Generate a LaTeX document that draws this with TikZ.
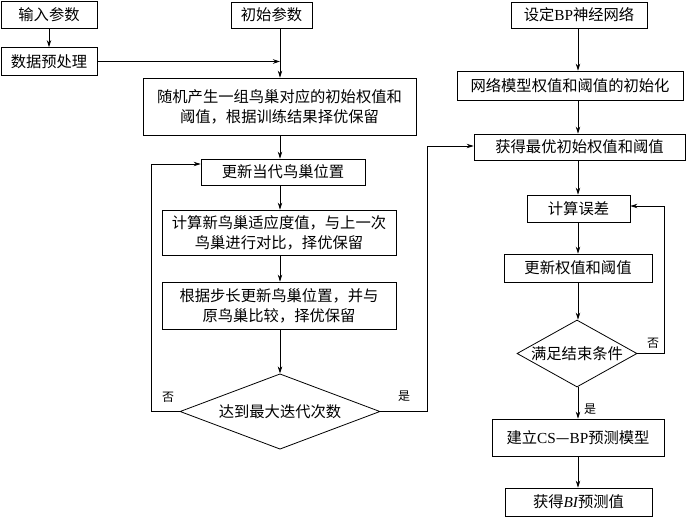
\documentclass[tikz,border=0pt]{standalone}
\usepackage{fontspec}
\setmainfont{Noto Sans CJK SC}
\newfontfamily\lat{Liberation Serif}
\usetikzlibrary{shapes.geometric,arrows.meta}
\begin{document}
\begin{tikzpicture}[x=1pt,y=-1pt,
  box/.style={draw,line width=0.8pt,inner sep=0pt,align=center,font=\fontsize{15.3}{20}\selectfont},
  dec/.style={draw,line width=0.8pt,diamond,aspect=2,inner sep=0pt,font=\fontsize{15.3}{20}\selectfont},
  arr/.style={line width=0.8pt,-{Stealth[length=7pt,width=4.5pt]}},
  ln/.style={line width=0.8pt},
  lbl/.style={font=\fontsize{12}{14}\selectfont,inner sep=0pt}]
\fill[white] (0,0) rectangle (700,525);
\useasboundingbox (0,0) rectangle (700,525);
% left column
\node[box,minimum width=96pt,minimum height=27pt] (in) at (49,14.5) {输入参数};
\node[box,minimum width=96pt,minimum height=28pt] (pre) at (49,61.5) {数据预处理};
\node[box,minimum width=81pt,minimum height=26pt] (init) at (271.5,15) {初始参数};
\node[box,minimum width=273pt,minimum height=57pt] (rand) at (279.5,106.5) {随机产生一组鸟巢对应的初始权值和\\阈值，根据训练结果择优保留};
\node[box,minimum width=164pt,minimum height=26pt] (upd) at (283,172) {更新当代鸟巢位置};
\node[box,minimum width=234pt,minimum height=45pt] (calc) at (279,232.5) {计算新鸟巢适应度值，与上一次\\鸟巢进行对比，择优保留};
\node[box,minimum width=234pt,minimum height=47pt] (stepb) at (279,305.5) {根据步长更新鸟巢位置，并与\\原鸟巢比较，择优保留};
\node[dec,minimum width=200pt,minimum height=71pt] (d1) at (280,411.5) {达到最大迭代次数};
% right column
\node[box,minimum width=136pt,minimum height=26pt] (bp) at (579,15) {设定{\lat BP}神经网络};
\node[box,minimum width=226pt,minimum height=29pt] (net) at (570,85.5) {网络模型权值和阈值的初始化};
\node[box,minimum width=211pt,minimum height=26pt] (best) at (579.5,147) {获得最优初始权值和阈值};
\node[box,minimum width=103pt,minimum height=27pt] (err) at (578.5,208.5) {计算误差};
\node[box,minimum width=148pt,minimum height=28pt] (upw) at (578,268) {更新权值和阈值};
\node[dec,minimum width=118pt,minimum height=67pt] (d2) at (577,353.5) {满足结束条件};
\node[box,minimum width=172pt,minimum height=37pt] (model) at (578,437.5) {建立{\lat CS}—{\lat BP}预测模型};
\node[box,minimum width=147pt,minimum height=28pt] (bi) at (578.5,502) {获得{\lat\itshape BI}预测值};
% labels
\node[lbl] (no1) at (168,397) {否};
\node[lbl] (yes1) at (404,396) {是};
\node[lbl] (no2) at (653,343) {否};
\node[lbl] (yes2) at (590,409) {是};
% coordinates
\coordinate (cx) at (280,0);
\coordinate (rx) at (578,0);
\coordinate (fl) at (151,0);
\coordinate (fr) at (427,0);
\coordinate (gr) at (664,0);
% connectors left
\draw[arr] (in) -- (pre);
\draw[arr] (pre.east) -- (pre.east -| cx);
\draw[arr] (init.south -| cx) -- (rand.north -| cx);
\draw[arr] (rand.south -| cx) -- (upd.north -| cx);
\draw[arr] (upd.south -| cx) -- (calc.north -| cx);
\draw[arr] (calc.south -| cx) -- (stepb.north -| cx);
\draw[arr] (stepb.south -| cx) -- (d1.north);
\draw[arr] (d1.west) -- (d1.west -| fl) -- ([yshift=8pt]upd.west -| fl) -- ([yshift=8pt]upd.west);
\draw[arr] (d1.east) -- (d1.east -| fr) -- ([yshift=1pt]best.west -| fr) -- ([yshift=1pt]best.west);
% connectors right
\draw[arr] (bp.south -| rx) -- (net.north -| rx);
\draw[arr] (net.south -| rx) -- (best.north -| rx);
\draw[arr] (best.south -| rx) -- (err.north -| rx);
\draw[arr] (err.south -| rx) -- (upw.north -| rx);
\draw[arr] (upw.south -| rx) -- (d2.north -| rx);
\draw[arr] (d2.south -| rx) -- (model.north -| rx);
\draw[arr] (model.south -| rx) -- (bi.north -| rx);
\draw[arr] (d2.east) -- (d2.east -| gr) -- ([yshift=2.5pt]err.east -| gr) -- ([yshift=2.5pt]err.east);
\end{tikzpicture}
\end{document}
